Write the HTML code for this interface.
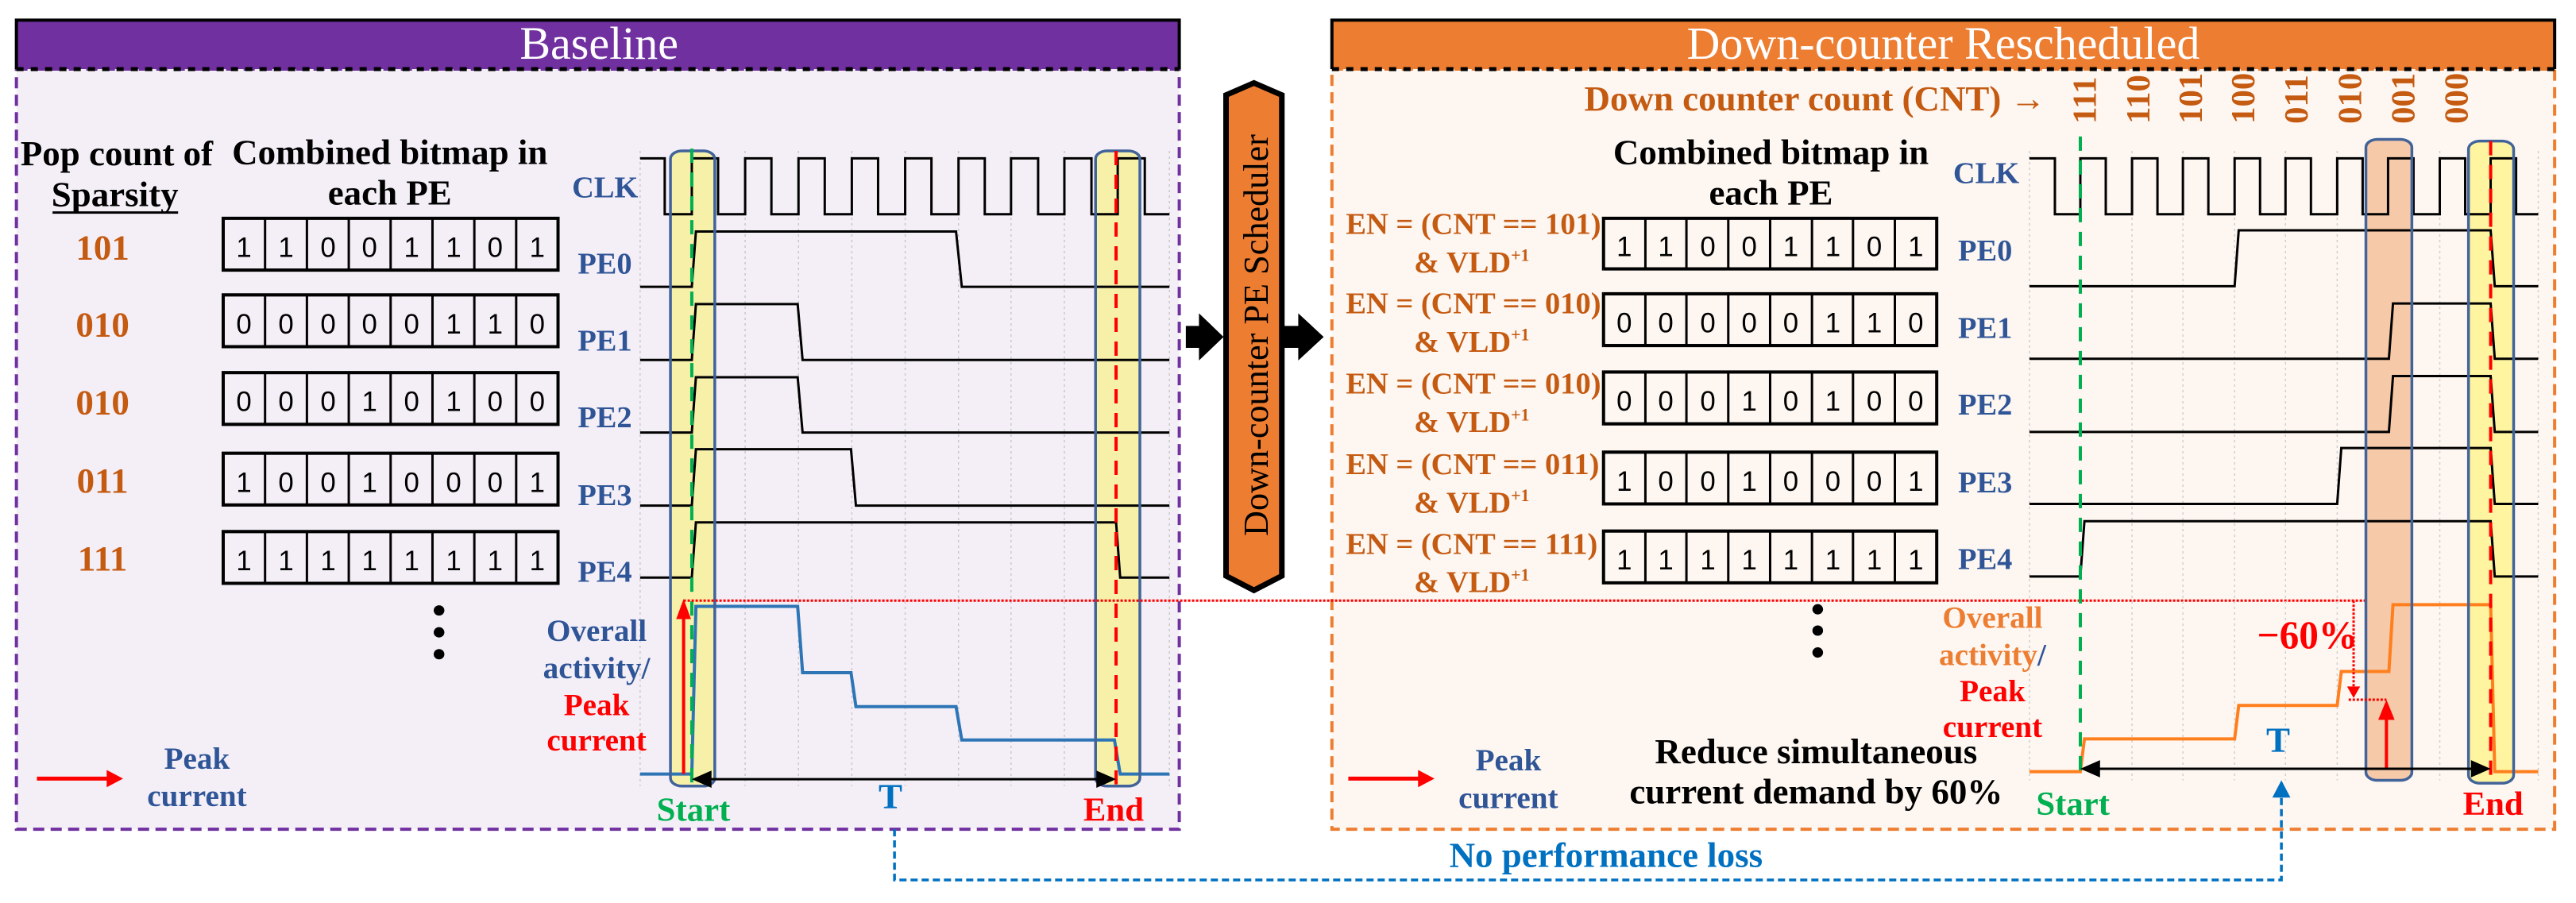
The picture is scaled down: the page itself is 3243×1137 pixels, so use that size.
<!DOCTYPE html>
<html><head><meta charset="utf-8"><style>
html,body{margin:0;padding:0;background:#fff;}
svg{display:block}
text{font-family:"Liberation Serif",serif;font-weight:bold}
.r{font-weight:normal}
.s{font-family:"Liberation Sans",sans-serif;font-weight:normal}
.ln{vector-effect:non-scaling-stroke;fill:none}
</style></head><body>
<svg width="3243" height="1137" viewBox="0 0 3139 1568" preserveAspectRatio="none" xmlns="http://www.w3.org/2000/svg">
<rect x="20" y="120" width="1417" height="1320" fill="#F4EFF7"/>
<rect x="20" y="120" width="1417" height="1320" class="ln" stroke="#7030A0" stroke-width="4" stroke-dasharray="14 8"/>
<rect x="20" y="35" width="1417" height="85" fill="#7030A0"/>
<path d="M20 120 V35 H1437 V120" class="ln" stroke="#000" stroke-width="4"/>
<line x1="20" y1="120" x2="1437" y2="120" class="ln" stroke="#000" stroke-width="5" stroke-dasharray="9 9"/>
<text class="r" transform="translate(730 102) scale(.702 1)" font-size="80" fill="#fff" text-anchor="middle">Baseline</text>

<rect x="1623" y="120" width="1490" height="1320" fill="#FDF6F1"/>
<rect x="1623" y="120" width="1490" height="1320" class="ln" stroke="#ED7D31" stroke-width="4" stroke-dasharray="14 8"/>
<rect x="1623" y="35" width="1490" height="85" fill="#ED7D31"/>
<path d="M1623 120 V35 H3113 V120" class="ln" stroke="#000" stroke-width="4"/>
<line x1="1623" y1="120" x2="3113" y2="120" class="ln" stroke="#000" stroke-width="5" stroke-dasharray="9 9"/>
<text class="r" transform="translate(2368 102) scale(.702 1)" font-size="80" fill="#fff" text-anchor="middle">Down-counter Rescheduled</text>

<polygon points="1445,566 1461,566 1461,544 1491,585 1461,626 1461,604 1445,604" fill="#000"/>
<polygon points="1565,566 1582,566 1582,544 1613,585 1582,626 1582,604 1565,604" fill="#000"/>
<polygon points="1528,144 1562,165 1562,1000 1528,1025 1494,1000 1494,165" fill="#ED7D31" stroke="#000" stroke-width="7" class="ln" style="fill:#ED7D31"/>
<text class="r" transform="translate(1545 582) scale(.702 1) rotate(-90)" font-size="61" fill="#000" text-anchor="middle">Down-counter PE Scheduler</text>

<text transform="translate(25 287) scale(.702 1)" font-size="62">Pop count of</text>
<text transform="translate(140 358) scale(.702 1)" font-size="62" text-anchor="middle">Sparsity</text>
<line x1="64" y1="369" x2="217" y2="369" class="ln" stroke="#000" stroke-width="3"/>
<text transform="translate(475 285) scale(.702 1)" font-size="62" text-anchor="middle">Combined bitmap in</text>
<text transform="translate(475 355) scale(.702 1)" font-size="62" text-anchor="middle">each PE</text>
<g fill="#C55A11" font-size="62" text-anchor="middle">
<text transform="translate(125 450) scale(.702 1)">101</text>
<text transform="translate(125 584) scale(.702 1)">010</text>
<text transform="translate(125 719) scale(.702 1)">010</text>
<text transform="translate(125 855) scale(.702 1)">011</text>
<text transform="translate(125 990) scale(.702 1)">111</text>
</g>
<g fill="#2F5597" font-size="53">
<text transform="translate(697 343) scale(.702 1)">CLK</text>
<text transform="translate(704 475) scale(.702 1)">PE0</text>
<text transform="translate(704 609) scale(.702 1)">PE1</text>
<text transform="translate(704 742) scale(.702 1)">PE2</text>
<text transform="translate(704 877) scale(.702 1)">PE3</text>
<text transform="translate(704 1010) scale(.702 1)">PE4</text>
</g>

<g fill="none" stroke="#000" stroke-width="4">
<rect x="272" y="379" width="408" height="90" class="ln"/>
<rect x="272" y="512" width="408" height="90" class="ln"/>
<rect x="272" y="647" width="408" height="90" class="ln"/>
<rect x="272" y="787" width="408" height="90" class="ln"/>
<rect x="272" y="923" width="408" height="90" class="ln"/>
<rect x="1954" y="379" width="406" height="88" class="ln"/>
<rect x="1954" y="510" width="406" height="90" class="ln"/>
<rect x="1954" y="646" width="406" height="90" class="ln"/>
<rect x="1954" y="785" width="406" height="90" class="ln"/>
<rect x="1954" y="922" width="406" height="90" class="ln"/>
</g>
<path class="ln" stroke="#000" stroke-width="3" d="M323 379V1013M374 379V1013M425 379V1013M476 379V1013M527 379V1013M578 379V1013M629 379V1013"/>
<rect x="272" y="469" width="408" height="43" fill="#F4EFF7"/>
<rect x="272" y="602" width="408" height="45" fill="#F4EFF7"/>
<rect x="272" y="737" width="408" height="50" fill="#F4EFF7"/>
<rect x="272" y="877" width="408" height="46" fill="#F4EFF7"/>
<path class="ln" stroke="#000" stroke-width="4" d="M272 469H680M272 512H680M272 602H680M272 647H680M272 737H680M272 787H680M272 877H680M272 923H680"/>
<path class="ln" stroke="#000" stroke-width="3" d="M2005 379V1012M2055 379V1012M2106 379V1012M2157 379V1012M2208 379V1012M2258 379V1012M2309 379V1012"/>
<rect x="1954" y="467" width="406" height="43" fill="#FDF6F1"/>
<rect x="1954" y="600" width="406" height="46" fill="#FDF6F1"/>
<rect x="1954" y="736" width="406" height="49" fill="#FDF6F1"/>
<rect x="1954" y="875" width="406" height="47" fill="#FDF6F1"/>
<path class="ln" stroke="#000" stroke-width="4" d="M1954 467H2360M1954 510H2360M1954 600H2360M1954 646H2360M1954 736H2360M1954 785H2360M1954 875H2360M1954 922H2360"/>
<g class="s" font-size="48" text-anchor="middle" fill="#000">
<text class="s" transform="translate(272 446) scale(.702 1)" x="36 109 182 254 327 400 472 545">11001101</text>
<text class="s" transform="translate(272 579) scale(.702 1)" x="36 109 182 254 327 400 472 545">00000110</text>
<text class="s" transform="translate(272 714) scale(.702 1)" x="36 109 182 254 327 400 472 545">00010100</text>
<text class="s" transform="translate(272 854) scale(.702 1)" x="36 109 182 254 327 400 472 545">10010001</text>
<text class="s" transform="translate(272 990) scale(.702 1)" x="36 109 182 254 327 400 472 545">11111111</text>
<text class="s" transform="translate(1954 445) scale(.702 1)" x="36 108 181 253 325 398 470 542">11001101</text>
<text class="s" transform="translate(1954 577) scale(.702 1)" x="36 108 181 253 325 398 470 542">00000110</text>
<text class="s" transform="translate(1954 713) scale(.702 1)" x="36 108 181 253 325 398 470 542">00010100</text>
<text class="s" transform="translate(1954 852) scale(.702 1)" x="36 108 181 253 325 398 470 542">10010001</text>
<text class="s" transform="translate(1954 989) scale(.702 1)" x="36 108 181 253 325 398 470 542">11111111</text>
</g>

<path class="ln" stroke="#C8C8C8" stroke-width="1.5" stroke-dasharray="3 4" d="M780 262V1365M908 262V1365M973 262V1365M1038 262V1365M1103 262V1365M1168 262V1365M1232 262V1365M1297 262V1365M1425 262V1365"/>
<rect x="817" y="262" width="54" height="1103" rx="14" fill="#F7F0A0" opacity="0.9"/>
<rect x="1335" y="262" width="54" height="1103" rx="14" fill="#F7F0A0" opacity="0.9"/>
<path class="ln" stroke="#000" stroke-width="3" d="M780 275H810V372H843V275H875V372H908V275H940V372H973V275H1005V372H1038V275H1070V372H1103V275H1135V372H1168V275H1200V372H1232V275H1265V372H1297V275H1330V372H1362V275H1395V372H1425"/>
<path class="ln" stroke="#000" stroke-width="3" d="M780 498H843L848 402H1165L1172 498H1425"/>
<path class="ln" stroke="#000" stroke-width="3" d="M780 625H843L848 528H972L978 625H1425"/>
<path class="ln" stroke="#000" stroke-width="3" d="M780 751H843L848 655H972L978 751H1425"/>
<path class="ln" stroke="#000" stroke-width="3" d="M780 878H843L848 780H1037L1043 878H1425"/>
<path class="ln" stroke="#000" stroke-width="3" d="M780 1003H843L848 907H1360L1365 1003H1425"/>
<path class="ln" stroke="#2E75B6" stroke-width="4" d="M780 1344H843L848 1053H972L978 1168H1037L1043 1227H1165L1172 1285H1358L1365 1344H1425"/>
<rect x="817" y="262" width="54" height="1103" rx="14" class="ln" stroke="#41639A" stroke-width="3.5"/>
<rect x="1335" y="262" width="54" height="1103" rx="14" class="ln" stroke="#41639A" stroke-width="3.5"/>
<line x1="843" y1="258" x2="843" y2="1365" class="ln" stroke="#00B050" stroke-width="4" stroke-dasharray="18 12"/>
<line x1="1360" y1="262" x2="1360" y2="1362" class="ln" stroke="#FF0000" stroke-width="4" stroke-dasharray="18 12"/>
<line x1="833" y1="1344" x2="833" y2="1070" class="ln" stroke="#FF0000" stroke-width="4"/>
<polygon points="824,1075 833,1040 842,1075" fill="#FF0000"/>
<line x1="833" y1="1043" x2="2908" y2="1043" class="ln" stroke="#FF0000" stroke-width="3" stroke-dasharray="3 2"/>
<line x1="862" y1="1353" x2="1342" y2="1353" class="ln" stroke="#000" stroke-width="3"/>
<polygon points="843,1353 867,1338 867,1368" fill="#000"/>
<polygon points="1360,1353 1336,1338 1336,1368" fill="#000"/>
<text transform="translate(845 1425) scale(.702 1)" font-size="59" fill="#00B050" text-anchor="middle">Start</text>
<text transform="translate(1085 1403) scale(.702 1)" font-size="62" fill="#0070C0" text-anchor="middle">T</text>
<text transform="translate(1357 1425) scale(.702 1)" font-size="59" fill="#FF0000" text-anchor="middle">End</text>
<g font-size="54" text-anchor="middle">
<text transform="translate(727 1113) scale(.702 1)" fill="#2F5597">Overall</text>
<text transform="translate(727 1178) scale(.702 1)" fill="#2F5597">activity/</text>
<text transform="translate(727 1242) scale(.702 1)" fill="#FF0000">Peak</text>
<text transform="translate(727 1303) scale(.702 1)" fill="#FF0000">current</text>
<text transform="translate(240 1335) scale(.702 1)" fill="#2F5597">Peak</text>
<text transform="translate(240 1400) scale(.702 1)" fill="#2F5597">current</text>
<text transform="translate(1838 1338) scale(.702 1)" fill="#2F5597">Peak</text>
<text transform="translate(1838 1403) scale(.702 1)" fill="#2F5597">current</text>
</g>
<g fill="#000">
<ellipse cx="535" cy="1060" rx="6.5" ry="9"/><ellipse cx="535" cy="1098" rx="6.5" ry="9"/><ellipse cx="535" cy="1136" rx="6.5" ry="9"/>
<ellipse cx="2215" cy="1058" rx="6.5" ry="9"/><ellipse cx="2215" cy="1095" rx="6.5" ry="9"/><ellipse cx="2215" cy="1133" rx="6.5" ry="9"/>
</g>
<line x1="45" y1="1352" x2="132" y2="1352" class="ln" stroke="#FF0000" stroke-width="5"/>
<polygon points="130,1337 150,1352 130,1367" fill="#FF0000"/>
<line x1="1643" y1="1352" x2="1730" y2="1352" class="ln" stroke="#FF0000" stroke-width="5"/>
<polygon points="1728,1337 1748,1352 1728,1367" fill="#FF0000"/>

<text transform="translate(2493 192) scale(.702 1)" font-size="62" fill="#C55A11" text-anchor="end">Down counter count (CNT) →</text>
<g fill="#C55A11" font-size="59">
<text transform="translate(2554 215) scale(.702 1) rotate(-90)">111</text>
<text transform="translate(2619 215) scale(.702 1) rotate(-90)">110</text>
<text transform="translate(2683 215) scale(.702 1) rotate(-90)">101</text>
<text transform="translate(2747 215) scale(.702 1) rotate(-90)">100</text>
<text transform="translate(2812 215) scale(.702 1) rotate(-90)">011</text>
<text transform="translate(2877 215) scale(.702 1) rotate(-90)">010</text>
<text transform="translate(2942 215) scale(.702 1) rotate(-90)">001</text>
<text transform="translate(3007 215) scale(.702 1) rotate(-90)">000</text>
</g>
<text transform="translate(2158 285) scale(.702 1)" font-size="62" text-anchor="middle">Combined bitmap in</text>
<text transform="translate(2158 355) scale(.702 1)" font-size="62" text-anchor="middle">each PE</text>
<g fill="#C55A11" font-size="53">
<text transform="translate(1640 406) scale(.702 1)">EN = (CNT == 101)</text>
<text transform="translate(1723 473) scale(.702 1)">&amp; VLD<tspan font-size="30" dy="-20">+1</tspan></text>
<text transform="translate(1640 544) scale(.702 1)">EN = (CNT == 010)</text>
<text transform="translate(1723 611) scale(.702 1)">&amp; VLD<tspan font-size="30" dy="-20">+1</tspan></text>
<text transform="translate(1640 683) scale(.702 1)">EN = (CNT == 010)</text>
<text transform="translate(1723 750) scale(.702 1)">&amp; VLD<tspan font-size="30" dy="-20">+1</tspan></text>
<text transform="translate(1640 823) scale(.702 1)">EN = (CNT == 011)</text>
<text transform="translate(1723 890) scale(.702 1)">&amp; VLD<tspan font-size="30" dy="-20">+1</tspan></text>
<text transform="translate(1640 962) scale(.702 1)">EN = (CNT == 111)</text>
<text transform="translate(1723 1028) scale(.702 1)">&amp; VLD<tspan font-size="30" dy="-20">+1</tspan></text>
</g>
<g fill="#2F5597" font-size="53">
<text transform="translate(2380 318) scale(.702 1)">CLK</text>
<text transform="translate(2386 452) scale(.702 1)">PE0</text>
<text transform="translate(2386 587) scale(.702 1)">PE1</text>
<text transform="translate(2386 720) scale(.702 1)">PE2</text>
<text transform="translate(2386 855) scale(.702 1)">PE3</text>
<text transform="translate(2386 988) scale(.702 1)">PE4</text>
</g>

<path class="ln" stroke="#D0D0D0" stroke-width="1.5" stroke-dasharray="3 4" d="M2473 262V1355M2598 262V1355M2660 262V1355M2723 262V1355M2785 262V1355M2848 262V1355M2910 262V1355M2973 262V1355M3093 262V1355"/>
<rect x="2883" y="242" width="56" height="1113" rx="14" fill="#F6C9A8"/>
<rect x="3008" y="245" width="55" height="1115" rx="14" fill="#FFF5A0"/>
<path class="ln" stroke="#000" stroke-width="3" d="M2473 275H2504V372H2535V275H2566V372H2598V275H2629V372H2660V275H2691V372H2723V275H2754V372H2785V275H2816V372H2848V275H2879V372H2910V275H2941V372H2973V275H3004V372H3035V275H3066V372H3093"/>
<path class="ln" stroke="#000" stroke-width="3" d="M2473 497H2723L2728 400H3035L3040 497H3093"/>
<path class="ln" stroke="#000" stroke-width="3" d="M2473 623H2911L2916 527H3035L3040 623H3093"/>
<path class="ln" stroke="#000" stroke-width="3" d="M2473 750H2911L2916 653H3035L3040 750H3093"/>
<path class="ln" stroke="#000" stroke-width="3" d="M2473 875H2848L2853 778H3035L3040 875H3093"/>
<path class="ln" stroke="#000" stroke-width="3" d="M2473 1001H2535L2540 905H3035L3040 1001H3093"/>
<path class="ln" stroke="#FF7F1E" stroke-width="4" d="M2473 1340H2535L2540 1283H2723L2728 1225H2848L2853 1166H2911L2916 1050H3035L3040 1340H3093"/>
<rect x="2883" y="242" width="56" height="1113" rx="14" class="ln" stroke="#41639A" stroke-width="3.5"/>
<rect x="3008" y="245" width="55" height="1115" rx="14" class="ln" stroke="#41639A" stroke-width="3.5"/>
<line x1="2535" y1="237" x2="2535" y2="1350" class="ln" stroke="#00B050" stroke-width="4" stroke-dasharray="18 12"/>
<line x1="3035" y1="245" x2="3035" y2="1360" class="ln" stroke="#FF0000" stroke-width="4" stroke-dasharray="18 12"/>
<line x1="2868" y1="1043" x2="2868" y2="1195" class="ln" stroke="#FF0000" stroke-width="3" stroke-dasharray="3 2"/>
<polygon points="2860,1192 2868,1212 2876,1192" fill="#FF0000"/>
<line x1="2862" y1="1215" x2="2908" y2="1215" class="ln" stroke="#FF0000" stroke-width="3" stroke-dasharray="3 2"/>
<line x1="2908" y1="1335" x2="2908" y2="1245" class="ln" stroke="#FF0000" stroke-width="4"/>
<polygon points="2898,1250 2908,1215 2918,1250" fill="#FF0000"/>
<text transform="translate(2873 1125) scale(.702 1)" font-size="68" fill="#FF0000" text-anchor="end">−60%</text>
<line x1="2555" y1="1335" x2="3015" y2="1335" class="ln" stroke="#000" stroke-width="3"/>
<polygon points="2535,1335 2559,1320 2559,1350" fill="#000"/>
<polygon points="3035,1335 3011,1320 3011,1350" fill="#000"/>
<text transform="translate(2776 1305) scale(.702 1)" font-size="62" fill="#0070C0" text-anchor="middle">T</text>
<text transform="translate(2526 1415) scale(.702 1)" font-size="59" fill="#00B050" text-anchor="middle">Start</text>
<text transform="translate(3038 1415) scale(.702 1)" font-size="59" fill="#FF0000" text-anchor="middle">End</text>
<g font-size="54" text-anchor="middle">
<text transform="translate(2428 1090) scale(.702 1)" fill="#ED7D31">Overall</text>
<text transform="translate(2428 1155) scale(.702 1)" fill="#ED7D31">activity<tspan fill="#2F5597">/</tspan></text>
<text transform="translate(2428 1218) scale(.702 1)" fill="#FF0000">Peak</text>
<text transform="translate(2428 1280) scale(.702 1)" fill="#FF0000">current</text>
</g>
<text transform="translate(2213 1325) scale(.702 1)" font-size="62" text-anchor="middle">Reduce simultaneous</text>
<text transform="translate(2213 1395) scale(.702 1)" font-size="62" text-anchor="middle">current demand by 60%</text>

<path class="ln" stroke="#0070C0" stroke-width="3.5" stroke-dasharray="9 5" d="M1090 1440V1528H2780V1380"/>
<polygon points="2769,1385 2780,1355 2791,1385" fill="#0070C0"/>
<text transform="translate(1957 1505) scale(.702 1)" font-size="62" fill="#0070C0" text-anchor="middle">No performance loss</text>
</svg>
</body></html>
